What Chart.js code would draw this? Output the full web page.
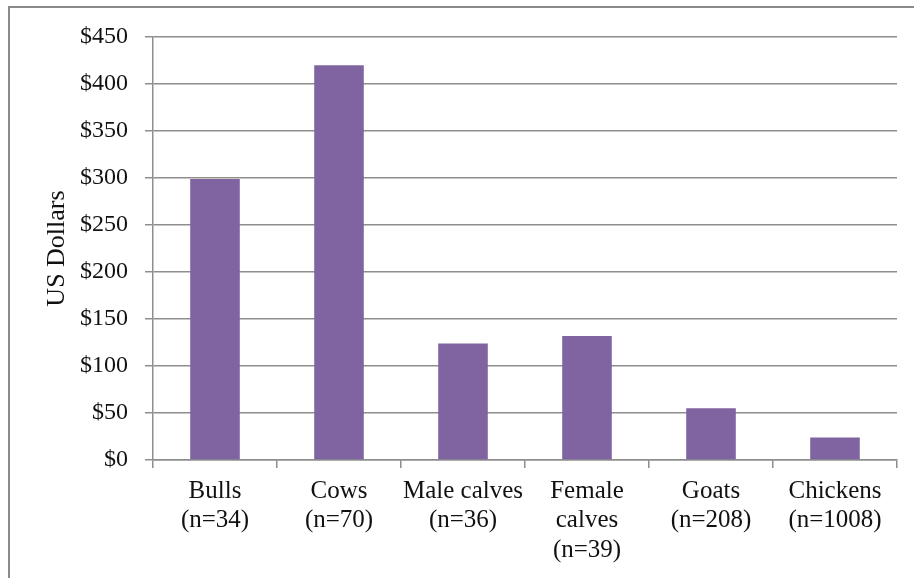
<!DOCTYPE html>
<html>
<head>
<meta charset="utf-8">
<script src="https://cdn.jsdelivr.net/npm/chart.js@4/dist/chart.umd.min.js"></script>
<style>
  html, body { margin: 0; padding: 0; background: #fff; }
  #wrap { width: 914px; height: 578px; position: relative; }
</style>
</head>
<body>
<div id="wrap"><canvas id="valueChart"></canvas></div>
<script>
// Average value per animal, with sample sizes in the labels
const animals = ['Bulls', 'Cows', 'Male calves', 'Female calves', 'Goats', 'Chickens'];
const sampleSizes = ['(n=34)', '(n=70)', '(n=36)', '(n=39)', '(n=208)', '(n=1008)'];
const avgValue = [299, 420, 124, 132, 55, 24];

const yMin = 0;
const yMax = 450;
const yStep = 50;

// Split long names onto two lines, then add the sample size underneath
const labels = animals.map((name, i) => {
    const lines = name === 'Female calves' ? ['Female', 'calves'] : [name];
    return [...lines, sampleSizes[i]];
});

const gridGray = '#8e8e8e';
const serif = '"Liberation Serif", "DejaVu Serif", serif';

// Outer frame around the chart
const framePlugin = {
    id: 'frame',
    beforeDraw(chart) {
        const ctx = chart.ctx;
        ctx.save();
        ctx.strokeStyle = '#8a8a8a';
        ctx.lineWidth = 2;
        ctx.beginPath();
        ctx.moveTo(9, chart.height + 5);
        ctx.lineTo(9, 7);
        ctx.lineTo(chart.width + 5, 7);
        ctx.stroke();
        ctx.restore();
    }
};

new Chart(document.getElementById('valueChart'), {
    type: 'bar',
    data: {
        labels: labels,
        datasets: [{
            label: 'US Dollars',
            data: avgValue,
            backgroundColor: '#8064a2',
            borderWidth: 0,
            barPercentage: 0.4,
            categoryPercentage: 1
        }]
    },
    plugins: [framePlugin],
    options: {
        responsive: true,
        maintainAspectRatio: false,
        animation: false,
        layout: { padding: { top: 37, right: 17, left: 0, bottom: 0 } },
        plugins: {
            legend: { display: false },
            tooltip: { enabled: false }
        },
        scales: {
            x: {
                offset: true,
                grid: {
                    offset: true,
                    drawOnChartArea: false,
                    drawTicks: true,
                    tickLength: 8,
                    color: gridGray,
                    lineWidth: 1.5
                },
                border: { color: gridGray, width: 1.5 },
                ticks: {
                    color: '#111',
                    font: { family: serif, size: 25, lineHeight: 1.17 },
                    padding: 9,
                    maxRotation: 0,
                    autoSkip: false
                },
                afterFit(scale) { scale.height = 578 - 460; }
            },
            y: {
                min: yMin,
                max: yMax,
                grid: {
                    color: gridGray,
                    lineWidth: 1.5,
                    tickLength: 8
                },
                border: { color: gridGray, width: 1.5 },
                ticks: {
                    stepSize: yStep,
                    color: '#111',
                    padding: 17,
                    font: { family: serif, size: 24 },
                    callback: v => '$' + v
                },
                title: {
                    display: true,
                    text: 'US Dollars',
                    color: '#111',
                    font: { family: serif, size: 26 },
                    padding: { top: 42, bottom: 0 }
                },
                afterFit(scale) { scale.width = 153; }
            }
        }
    }
});
</script>
</body>
</html>
